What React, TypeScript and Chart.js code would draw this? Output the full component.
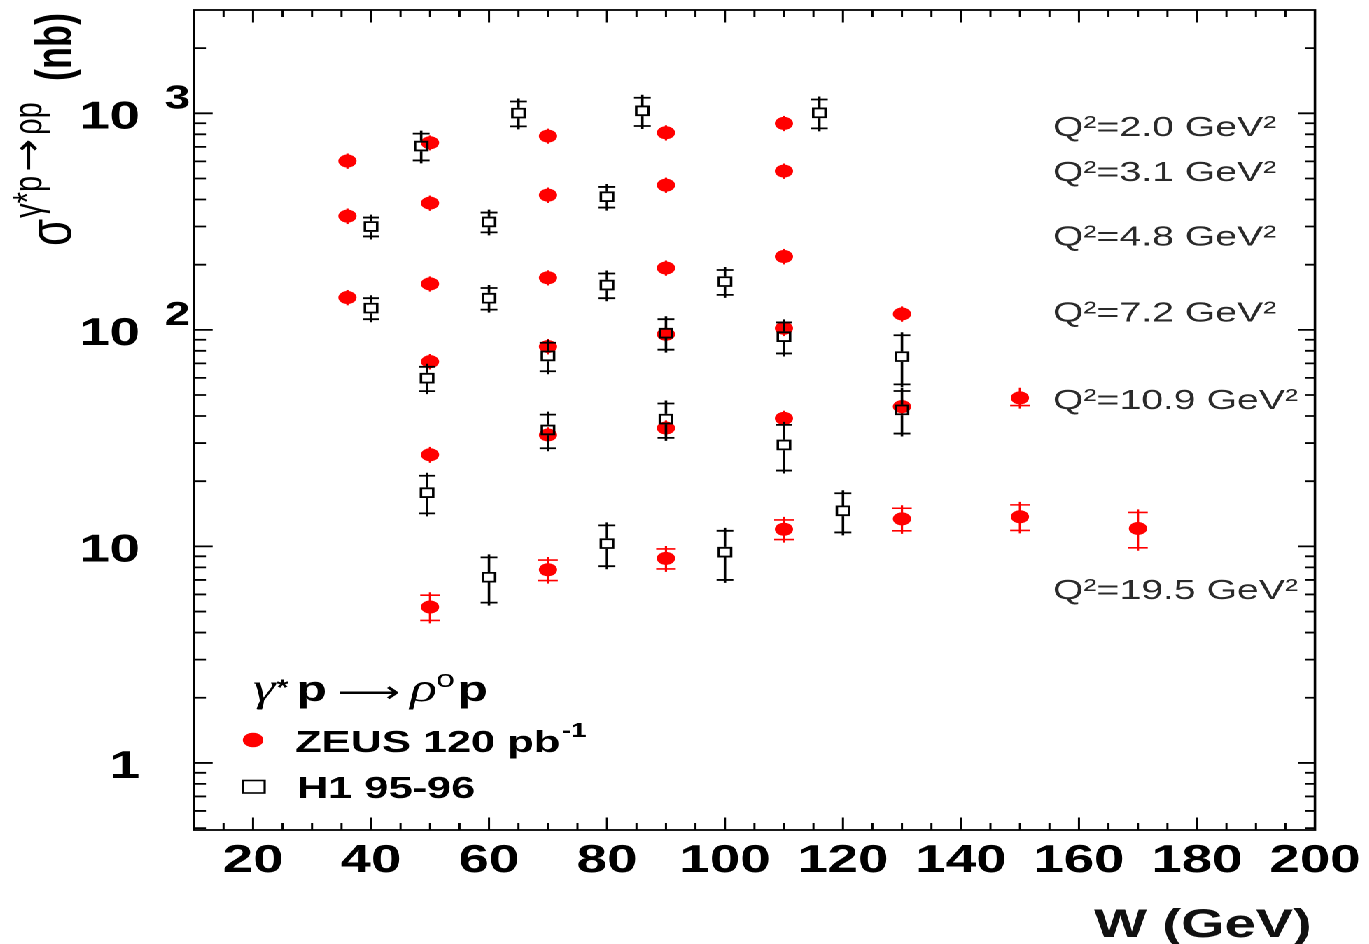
import React, { useEffect, useRef } from "react";
import { Chart, registerables } from "chart.js";

Chart.register(...registerables);

// ---------------- data ----------------
const W_MIN = 10;
const W_MAX = 200;
const SIGMA_MIN = 0.49;
const SIGMA_MAX = 3000;

const X_TICK_VALUES = [20, 40, 60, 80, 100, 120, 140, 160, 180, 200];
const X_TICK_LABELS = ["20", "40", "60", "80", "100", "120", "140", "160", "180", "200"];
const Y_TICK_VALUES = [1, 10, 100, 1000];
const Y_TICK_BASES = ["1", "10", "10", "10"];
const Y_TICK_EXPONENTS = ["", "", "2", "3"];

// ZEUS 120 pb-1
const ZEUS_Q2_20_W = [36, 50, 70, 90, 110];
const ZEUS_Q2_20_SIG = [602, 731, 785, 813, 898];
const ZEUS_Q2_20_ERR = [30, 35, 38, 40, 44];

const ZEUS_Q2_31_W = [36, 50, 70, 90, 110];
const ZEUS_Q2_31_SIG = [335, 385, 419, 466, 541];
const ZEUS_Q2_31_ERR = [17, 19, 21, 23, 27];

const ZEUS_Q2_48_W = [36, 50, 70, 90, 110];
const ZEUS_Q2_48_SIG = [141, 163, 174, 193, 218];
const ZEUS_Q2_48_ERR = [7, 8, 8.5, 9.5, 11];

const ZEUS_Q2_72_W = [50, 70, 90, 110, 130];
const ZEUS_Q2_72_SIG = [71.3, 83.7, 95.4, 101.7, 118.4];
const ZEUS_Q2_72_ERR = [3.6, 4.2, 4.8, 5.1, 5.9];

const ZEUS_Q2_109_W = [50, 70, 90, 110, 130, 150];
const ZEUS_Q2_109_SIG = [26.5, 32.7, 35.2, 39.0, 44.2, 48.5];
const ZEUS_Q2_109_ERR = [1.4, 1.7, 1.8, 2.0, 2.3, 3.8];

const ZEUS_Q2_195_W = [50, 70, 90, 110, 130, 150, 170];
const ZEUS_Q2_195_SIG = [5.25, 7.8, 8.8, 12.0, 13.4, 13.7, 12.1];
const ZEUS_Q2_195_ERR = [0.7, 0.85, 0.93, 1.25, 1.6, 1.85, 2.25];

// H1 95-96
const H1_Q2_20_W = [48.5, 65, 86, 116];
const H1_Q2_20_SIG = [706, 1002, 1027, 1005];
const H1_Q2_20_ERR = [100, 132, 153, 153];

const H1_Q2_31_W = [40, 60, 80];
const H1_Q2_31_SIG = [300, 315, 412];
const H1_Q2_31_ERR = [30, 33, 45];

const H1_Q2_48_W = [40, 60, 80, 100];
const H1_Q2_48_SIG = [126, 140, 161, 167];
const H1_Q2_48_ERR = [14, 16, 21, 22];

const H1_Q2_72_W = [49.5, 70, 90, 110, 130];
const H1_Q2_72_SIG = [59.8, 75.8, 96.5, 93.0, 75.2];
const H1_Q2_72_ERR = [7.7, 11.4, 15.5, 15.2, 19.2];

const H1_Q2_109_W = [49.5, 70, 90, 110, 130];
const H1_Q2_109_SIG = [17.7, 34.5, 38.7, 29.4, 42.7];
const H1_Q2_109_ERR = [3.5, 6.1, 7, 7, 9.5];

const H1_Q2_195_W = [60, 80, 100, 120];
const H1_Q2_195_SIG = [7.2, 10.3, 9.4, 14.6];
const H1_Q2_195_ERR = [1.7, 2.2, 2.4, 3.0];

// Q^2 annotations
const Q2_LABELS = [
  "Q²=2.0 GeV²",
  "Q²=3.1 GeV²",
  "Q²=4.8 GeV²",
  "Q²=7.2 GeV²",
  "Q²=10.9 GeV²",
  "Q²=19.5 GeV²",
];
const Q2_LABEL_W = 155.6;
const Q2_LABEL_SIGMA = [882, 547, 276, 123, 48.5, 6.44];

const ZEUS_LABEL = "ZEUS 120 pb";
const ZEUS_LABEL_SUP = "-1";
const H1_LABEL = "H1 95-96";

// ---------------- layout ----------------
const STRETCH = 1.4;
const CANVAS_W = 978;
const CANVAS_H = 944;
const PLOT_LEFT = 194 / STRETCH;
const PLOT_RIGHT = 1315 / STRETCH;
const PLOT_TOP = 10;
const PLOT_BOTTOM = 830;

const SANS = '"Liberation Sans", Arial, "DejaVu Sans", sans-serif';
const SERIF = '"Liberation Serif", "DejaVu Serif", serif';
const RED = "#ff0000";

function buildPoints(ws: number[][], ss: number[][]) {
  const pts: { x: number; y: number }[] = [];
  ws.forEach((w, g) => w.forEach((x, i) => pts.push({ x, y: ss[g][i] })));
  return pts;
}

const ZEUS_POINTS = buildPoints(
  [ZEUS_Q2_20_W, ZEUS_Q2_31_W, ZEUS_Q2_48_W, ZEUS_Q2_72_W, ZEUS_Q2_109_W, ZEUS_Q2_195_W],
  [ZEUS_Q2_20_SIG, ZEUS_Q2_31_SIG, ZEUS_Q2_48_SIG, ZEUS_Q2_72_SIG, ZEUS_Q2_109_SIG, ZEUS_Q2_195_SIG]
);
const ZEUS_ERRORS = [
  ...ZEUS_Q2_20_ERR, ...ZEUS_Q2_31_ERR, ...ZEUS_Q2_48_ERR,
  ...ZEUS_Q2_72_ERR, ...ZEUS_Q2_109_ERR, ...ZEUS_Q2_195_ERR,
];
const H1_POINTS = buildPoints(
  [H1_Q2_20_W, H1_Q2_31_W, H1_Q2_48_W, H1_Q2_72_W, H1_Q2_109_W, H1_Q2_195_W],
  [H1_Q2_20_SIG, H1_Q2_31_SIG, H1_Q2_48_SIG, H1_Q2_72_SIG, H1_Q2_109_SIG, H1_Q2_195_SIG]
);
const H1_ERRORS = [
  ...H1_Q2_20_ERR, ...H1_Q2_31_ERR, ...H1_Q2_48_ERR,
  ...H1_Q2_72_ERR, ...H1_Q2_109_ERR, ...H1_Q2_195_ERR,
];

const ZEUS_RADIUS = 6.5;
const H1_RADIUS = 6.2;
const H1_HALF_SIDE = H1_RADIUS * Math.SQRT1_2 + 0.9;

function drawErrorBars(
  chart: any,
  dsIndex: number,
  errs: number[],
  color: string,
  capHalf: number,
  lw: number,
  gapHalf: number,
  ext: number,
  capMinDist: number
) {
  const ctx: CanvasRenderingContext2D = chart.ctx;
  const xs = chart.scales.x;
  const ys = chart.scales.y;
  const data = chart.data.datasets[dsIndex].data as { x: number; y: number }[];
  ctx.save();
  ctx.strokeStyle = color;
  ctx.lineWidth = lw;
  ctx.lineCap = "butt";
  data.forEach((p, i) => {
    const e = errs[i];
    const px = xs.getPixelForValue(p.x);
    const pc = ys.getPixelForValue(p.y);
    const pt = ys.getPixelForValue(p.y + e);
    const pb = ys.getPixelForValue(Math.max(p.y - e, SIGMA_MIN * 0.5));
    ctx.beginPath();
    if (gapHalf > 0) {
      if (pt < pc - gapHalf) {
        ctx.moveTo(px, pt - ext);
        ctx.lineTo(px, pc - gapHalf);
      }
      if (pb > pc + gapHalf) {
        ctx.moveTo(px, pc + gapHalf);
        ctx.lineTo(px, pb + ext);
      }
    } else {
      ctx.moveTo(px, pt - ext);
      ctx.lineTo(px, pb + ext);
    }
    if (pc - pt > capMinDist) {
      ctx.moveTo(px - capHalf, pt);
      ctx.lineTo(px + capHalf, pt);
    }
    if (pb - pc > capMinDist) {
      ctx.moveTo(px - capHalf, pb);
      ctx.lineTo(px + capHalf, pb);
    }
    ctx.stroke();
  });
  ctx.restore();
}

const decorPlugin = {
  id: "decor",
  beforeDatasetsDraw(chart: any) {
    drawErrorBars(chart, 1, ZEUS_ERRORS, RED, 7, 1.6, 0, 3, ZEUS_RADIUS + 1);
  },
  afterDatasetsDraw(chart: any) {
    drawErrorBars(chart, 0, H1_ERRORS, "#000", 6, 1.8, H1_HALF_SIDE, 3, 0);
  },
  afterDraw(chart: any) {
    const ctx: CanvasRenderingContext2D = chart.ctx;
    const a = chart.chartArea;
    const xs = chart.scales.x;
    const ys = chart.scales.y;
    ctx.save();

    // frame
    ctx.strokeStyle = "#000";
    ctx.lineWidth = 1.8;
    ctx.strokeRect(a.left, a.top, a.right - a.left, a.bottom - a.top);

    // x ticks (inside, top and bottom)
    ctx.lineWidth = 1.5;
    ctx.beginPath();
    for (let w = W_MIN + 5; w < W_MAX; w += 5) {
      const px = xs.getPixelForValue(w);
      const len = w % 20 === 0 ? 12.5 : 7;
      ctx.moveTo(px, a.bottom);
      ctx.lineTo(px, a.bottom - len);
      ctx.moveTo(px, a.top);
      ctx.lineTo(px, a.top + len);
    }
    ctx.stroke();

    // y ticks (inside, left and right)
    ctx.lineWidth = 1.8;
    ctx.beginPath();
    for (let e = -1; e <= 3; e++) {
      for (let m = 1; m <= 9; m++) {
        const v = m * Math.pow(10, e);
        if (v <= SIGMA_MIN || v >= SIGMA_MAX) continue;
        const py = ys.getPixelForValue(v);
        const lenL = m === 1 ? 13.3 : 8.5;
        const lenR = m === 1 ? 12 : 7.2;
        ctx.moveTo(a.left, py);
        ctx.lineTo(a.left + lenL, py);
        ctx.moveTo(a.right, py);
        ctx.lineTo(a.right - lenR, py);
      }
    }
    ctx.stroke();

    // x tick labels
    ctx.fillStyle = "#000";
    ctx.font = `bold 39px ${SANS}`;
    ctx.textAlign = "center";
    ctx.textBaseline = "alphabetic";
    X_TICK_VALUES.forEach((v, i) => {
      ctx.fillText(X_TICK_LABELS[i], xs.getPixelForValue(v), 872);
    });

    // y tick labels
    Y_TICK_VALUES.forEach((v, i) => {
      const py = ys.getPixelForValue(v);
      ctx.font = `bold 39px ${SANS}`;
      ctx.textAlign = "right";
      ctx.fillText(Y_TICK_BASES[i], 100, py + 15);
      if (Y_TICK_EXPONENTS[i]) {
        ctx.font = `bold 33px ${SANS}`;
        ctx.textAlign = "left";
        ctx.fillText(Y_TICK_EXPONENTS[i], 117.5, py - 5);
      }
    });

    // x title
    ctx.font = `bold 40px ${SANS}`;
    ctx.textAlign = "right";
    ctx.fillStyle = "#111";
    ctx.fillText("W (GeV)", 937, 937);

    // y title (rotated)
    ctx.save();
    ctx.translate(50.5, 246);
    ctx.rotate(-Math.PI / 2);
    ctx.textAlign = "left";
    ctx.fillStyle = "#000";
    ctx.font = `44px ${SANS}`;
    ctx.fillText("σ", 0, 0);
    const sw = ctx.measureText("σ").width;
    ctx.font = `29px ${SANS}`;
    ctx.fillText("γ*p", sw + 1, -21);
    let sx = sw + 1 + ctx.measureText("γ*p").width + 4;
    ctx.save();
    ctx.font = `29px "DejaVu Sans", ${SANS}`;
    const yarrow = "→";
    const yaw = ctx.measureText(yarrow).width || 1;
    ctx.translate(sx, -21);
    ctx.scale(33 / yaw, 1);
    ctx.fillText(yarrow, 0, 0);
    ctx.restore();
    sx += 33 + 4;
    ctx.font = `29px ${SANS}`;
    ctx.fillText("ρp", sx, -21);
    ctx.font = `bold 36px ${SANS}`;
    ctx.textAlign = "right";
    ctx.fillText("(nb)", 233, 0);
    ctx.restore();

    // Q^2 labels
    ctx.font = `28px ${SANS}`;
    ctx.textAlign = "left";
    ctx.fillStyle = "#2a2a2a";
    Q2_LABELS.forEach((t, i) => {
      const px = xs.getPixelForValue(Q2_LABEL_W);
      const py = ys.getPixelForValue(Q2_LABEL_SIGMA[i]);
      ctx.fillText(t, px, py + 11);
    });

    // legend title: gamma* p -> rho0 p
    ctx.fillStyle = "#000";
    ctx.textAlign = "left";
    ctx.font = `italic 40px ${SERIF}`;
    ctx.fillText("γ", 180.7, 701);
    ctx.font = `bold 22px ${SANS}`;
    ctx.fillText("*", 197.5, 695);
    ctx.font = `bold 36px ${SANS}`;
    ctx.fillText("p", 211.5, 701);
    ctx.save();
    ctx.font = `30px "DejaVu Sans", ${SANS}`;
    const arrow = "⟶";
    const aw = ctx.measureText(arrow).width || 1;
    ctx.translate(240.7, 702);
    ctx.scale(45 / aw, 1);
    ctx.fillText(arrow, 0, 0);
    ctx.restore();
    ctx.font = `italic 40px ${SERIF}`;
    ctx.fillText("ρ", 292.9, 701);
    ctx.font = `24px ${SANS}`;
    ctx.fillText("o", 311.5, 687);
    ctx.font = `bold 36px ${SANS}`;
    ctx.fillText("p", 326.5, 701);

    // legend entries
    ctx.fillStyle = RED;
    ctx.beginPath();
    ctx.arc(180.7, 740, 7.3, 0, Math.PI * 2);
    ctx.fill();
    ctx.fillStyle = "#000";
    ctx.font = `bold 31px ${SANS}`;
    ctx.fillText(ZEUS_LABEL, 210.7, 752);
    const zw = ctx.measureText(ZEUS_LABEL).width;
    ctx.font = `bold 20px ${SANS}`;
    ctx.fillText(ZEUS_LABEL_SUP, 210.7 + zw + 1, 737);

    ctx.strokeStyle = "#000";
    ctx.lineWidth = 1.6;
    ctx.strokeRect(173.5, 780.5, 15.5, 12.5);
    ctx.font = `bold 31px ${SANS}`;
    ctx.fillText(H1_LABEL, 212, 798);

    ctx.restore();
  },
};

export default function App() {
  const ref = useRef<HTMLCanvasElement>(null);

  useEffect(() => {
    const canvas = ref.current;
    if (!canvas) return;
    const chart = new Chart(canvas, {
      type: "scatter",
      data: {
        datasets: [
          {
            label: H1_LABEL,
            data: H1_POINTS,
            pointStyle: "rect",
            pointRadius: H1_RADIUS,
            pointBackgroundColor: "rgba(0,0,0,0)",
            pointBorderColor: "#000",
            pointBorderWidth: 1.8,
            order: 0,
          },
          {
            label: ZEUS_LABEL,
            data: ZEUS_POINTS,
            pointStyle: "circle",
            pointRadius: ZEUS_RADIUS,
            pointBackgroundColor: RED,
            pointBorderWidth: 0,
            order: 1,
          },
        ],
      },
      options: {
        animation: false,
        responsive: false,
        devicePixelRatio: 2,
        events: [],
        layout: {
          padding: {
            left: PLOT_LEFT,
            right: CANVAS_W - PLOT_RIGHT,
            top: PLOT_TOP,
            bottom: CANVAS_H - PLOT_BOTTOM,
          },
        },
        plugins: {
          legend: { display: false },
          tooltip: { enabled: false },
        },
        scales: {
          x: { type: "linear", min: W_MIN, max: W_MAX, display: false },
          y: { type: "logarithmic", min: SIGMA_MIN, max: SIGMA_MAX, display: false },
        },
      },
      plugins: [decorPlugin],
    } as any);
    return () => chart.destroy();
  }, []);

  return (
    <div
      style={{
        position: "fixed",
        left: 0,
        top: 0,
        width: CANVAS_W,
        height: CANVAS_H,
        transform: `scaleX(${STRETCH})`,
        transformOrigin: "0 0",
        background: "#fff",
      }}
    >
      <canvas
        ref={ref}
        width={CANVAS_W}
        height={CANVAS_H}
        style={{ width: CANVAS_W, height: CANVAS_H, display: "block" }}
      />
    </div>
  );
}
